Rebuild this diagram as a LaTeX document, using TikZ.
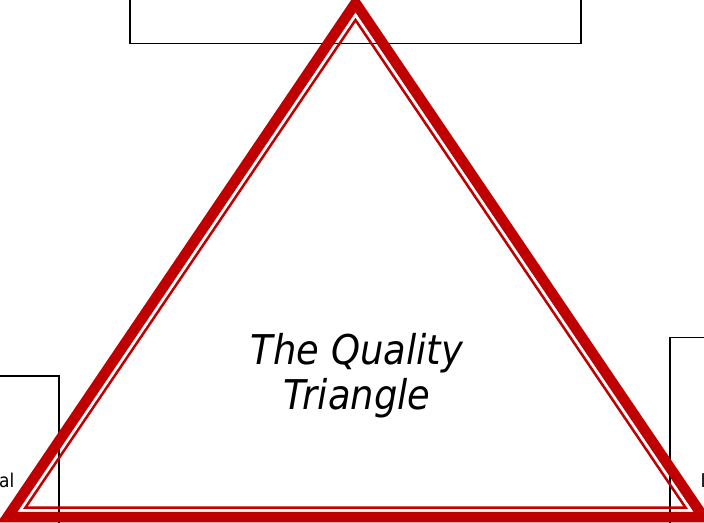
\documentclass[tikz,border=0pt]{standalone}
\usepackage{fontspec}
\setmainfont{DejaVu Sans Condensed}
\usepackage{xcolor}
\definecolor{CRed}{HTML}{C00000}
\usepackage{tikz}
\usetikzlibrary{positioning}
\tikzstyle{frameNode}=[rectangle, draw=black, line width=1.2pt, fill=none]
\tikzstyle{sideText}=[inner sep=0pt, font=\fontsize{19}{22}\selectfont]
\tikzstyle{outerEdge}=[draw=CRed, line width=10.5pt, line join=miter]
\tikzstyle{innerEdge}=[draw=CRed, line width=2.5pt, line join=miter]
\begin{document}
\begin{tikzpicture}[x=1pt, y=-1pt]
\useasboundingbox (0,0) rectangle (704,522);
\clip (0,0) rectangle (704,522);
\node[frameNode, minimum width=451pt, minimum height=84pt] (top) at (355.5,1.5) {};
\node[frameNode, minimum width=119pt, minimum height=184pt] (left) at (-0.5,468) {};
\node[frameNode, minimum width=120pt, minimum height=223pt] (right) at (730,449) {};
\node[sideText, anchor=base east] (leftText) at (14.5,487) {al};
\node[sideText, anchor=base west] (rightText) at (700.5,487) {I};
% triangle corners
\coordinate (oA) at (355.5,3);
\coordinate (oL) at (7.6,517);
\coordinate (oR) at (703.4,517);
\coordinate (iA) at (355.5,20);
\coordinate (iL) at (25.5,507.5);
\coordinate (iR) at (685.5,507.5);
\draw[outerEdge] (oA) -- (oL) -- (oR) -- cycle;
\draw[innerEdge] (iA) -- (iL) -- (iR) -- cycle;
\node[align=center, inner sep=0pt, font=\fontsize{41}{45}\selectfont\itshape] (title) at (357,376) {The Quality\\Triangle};
\end{tikzpicture}
\end{document}
